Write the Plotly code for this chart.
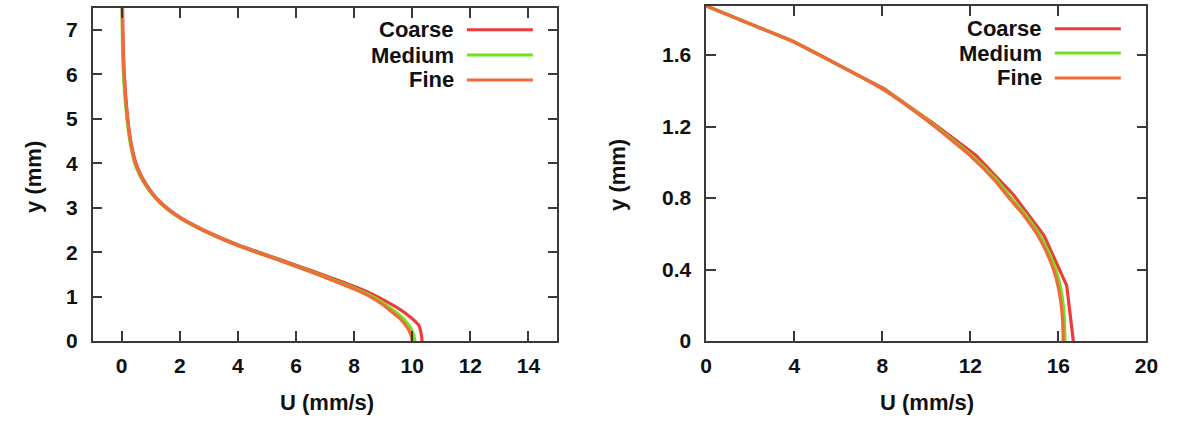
import plotly.graph_objects as go

# ---------------- data (left panel) ----------------
left_fine_y = [7.5, 7.0, 6.5, 6.0, 5.5, 5.0, 4.5, 4.0, 3.75, 3.5, 3.25, 3.0, 2.77, 2.5, 2.16, 2.0,
               1.68, 1.5, 1.17, 1.0, 0.81, 0.6, 0.51, 0.35, 0.22, 0.1, 0.0]
left_fine_u = [0.02, 0.03, 0.05, 0.08, 0.13, 0.2, 0.3, 0.47, 0.63, 0.85, 1.13, 1.52, 2.0, 2.77, 3.95, 4.62,
               6.0, 6.74, 8.0, 8.55, 9.0, 9.4, 9.57, 9.78, 9.9, 9.97, 10.0]
left_med_y = [7.5, 7.0, 6.5, 6.0, 5.5, 5.0, 4.5, 4.0, 3.75, 3.5, 3.25, 3.0, 2.77, 2.5, 2.16, 2.0,
              1.68, 1.5, 1.17, 1.0, 0.81, 0.6, 0.5, 0.3, 0.15, 0.0]
left_med_u = [0.01, 0.02, 0.03, 0.06, 0.11, 0.18, 0.28, 0.45, 0.61, 0.83, 1.12, 1.51, 2.0, 2.78, 3.97, 4.65,
              6.04, 6.8, 8.07, 8.64, 9.1, 9.53, 9.7, 9.94, 10.04, 10.09]
left_coarse_y = [7.5, 7.0, 6.5, 6.0, 5.5, 5.0, 4.5, 4.0, 3.75, 3.5, 3.25, 3.0, 2.77, 2.5, 2.16, 2.0,
                 1.68, 1.5, 1.2, 1.0, 0.8, 0.6, 0.35, 0.0]
left_coarse_u = [0.03, 0.04, 0.06, 0.09, 0.14, 0.21, 0.31, 0.49, 0.65, 0.87, 1.15, 1.55, 2.04, 2.82, 4.02, 4.72,
                 6.12, 6.9, 8.12, 8.8, 9.35, 9.82, 10.23, 10.34]

# ---------------- data (right panel) ----------------
right_fine_y = [1.875, 1.773, 1.673, 1.545, 1.41, 1.236, 1.036, 0.9, 0.8, 0.7, 0.6, 0.5, 0.4, 0.3, 0.2, 0.1, 0.0]
right_fine_u = [0.0, 2.0, 4.0, 6.0, 8.0, 10.0, 12.0, 13.1, 13.76, 14.45, 15.02, 15.45, 15.78, 16.0, 16.13, 16.2, 16.22]
right_med_y = [1.875, 1.773, 1.673, 1.545, 1.41, 1.236, 1.036, 0.9, 0.8, 0.7, 0.6, 0.5, 0.4, 0.3, 0.2, 0.1, 0.0]
right_med_u = [0.0, 2.0, 4.0, 6.0, 8.02, 10.05, 12.08, 13.2, 13.86, 14.55, 15.12, 15.55, 15.88, 16.1, 16.22, 16.28, 16.3]
right_coarse_y = [1.875, 1.673, 1.41, 1.22, 1.04, 0.82, 0.59, 0.31, 0.0]
right_coarse_u = [0.0, 4.0, 8.1, 10.3, 12.25, 13.95, 15.35, 16.38, 16.68]

series_names = ["Coarse", "Medium", "Fine"]
colors = {"Coarse": "#ee3b3b", "Medium": "#6fe31b", "Fine": "#ef6b3a"}

left_x_ticks = [0, 2, 4, 6, 8, 10, 12, 14]
left_y_ticks = [0, 1, 2, 3, 4, 5, 6, 7]
right_x_ticks = [0, 4, 8, 12, 16, 20]
right_y_ticks = [0, 0.4, 0.8, 1.2, 1.6]

W, H = 1184, 430
FONT = "Liberation Sans"

fig = go.Figure()

left = {"Coarse": (left_coarse_u, left_coarse_y),
        "Medium": (left_med_u, left_med_y),
        "Fine": (left_fine_u, left_fine_y)}
right = {"Coarse": (right_coarse_u, right_coarse_y),
         "Medium": (right_med_u, right_med_y),
         "Fine": (right_fine_u, right_fine_y)}

for name in series_names:
    u, y = left[name]
    fig.add_trace(go.Scatter(x=u, y=y, mode="lines", name=name, xaxis="x", yaxis="y",
                             line=dict(color=colors[name], width=3.2, shape="spline", smoothing=0.8),
                             showlegend=False))
for name in series_names:
    u, y = right[name]
    fig.add_trace(go.Scatter(x=u, y=y, mode="lines", name=name, xaxis="x2", yaxis="y2",
                             line=dict(color=colors[name], width=3.2,
                                       shape="linear" if name == "Coarse" else "spline",
                                       smoothing=0.6),
                             showlegend=False))

axis_common = dict(showline=True, linecolor="#3a3a3a", linewidth=1.5, mirror="ticks",
                   ticks="inside", ticklen=10, tickwidth=1.5, tickcolor="#3a3a3a",
                   showgrid=False, zeroline=False,
                   tickfont=dict(family=FONT, size=21, color="#111111", weight="bold"))

def px_x(p):
    return p / W

def px_y(p):
    return 1 - p / H

fig.update_layout(
    width=W, height=H, margin=dict(l=0, r=0, t=0, b=0),
    paper_bgcolor="white", plot_bgcolor="white",
    xaxis=dict(domain=[px_x(88), px_x(560)], range=[-1, 15], tickvals=left_x_ticks,
               anchor="y", ticklabelstandoff=5, **axis_common),
    yaxis=dict(domain=[px_y(350), px_y(8)], range=[0, 7.5], tickvals=left_y_ticks,
               anchor="x", ticklabelstandoff=9, **axis_common),
    xaxis2=dict(domain=[px_x(711), px_x(1158)], range=[0, 20], tickvals=right_x_ticks,
                anchor="y2", ticklabelstandoff=5, **axis_common),
    yaxis2=dict(domain=[px_y(350), px_y(6)], range=[0, 1.875], tickvals=right_y_ticks,
                anchor="x2", ticklabelstandoff=9, **axis_common),
)

title_font = dict(family=FONT, size=22, color="#111111", weight="bold")
annotations = [
    dict(text="U (mm/s)", x=px_x(326), y=px_y(413), xref="paper", yref="paper",
         showarrow=False, font=title_font, xanchor="center", yanchor="middle"),
    dict(text="y (mm)", x=px_x(28), y=px_y(182), xref="paper", yref="paper",
         showarrow=False, font=title_font, textangle=-90, xanchor="center", yanchor="middle"),
    dict(text="U (mm/s)", x=px_x(935), y=px_y(413), xref="paper", yref="paper",
         showarrow=False, font=title_font, xanchor="center", yanchor="middle"),
    dict(text="y (mm)", x=px_x(621), y=px_y(180), xref="paper", yref="paper",
         showarrow=False, font=title_font, textangle=-90, xanchor="center", yanchor="middle"),
]

shapes = []
legend_font = dict(family=FONT, size=22, color="#111111", weight="bold")
left_leg_y = [30.5, 56.5, 82]
right_leg_y = [29.5, 54.5, 80]
for i, name in enumerate(series_names):
    # left panel legend
    annotations.append(dict(text=name, x=px_x(457), y=px_y(left_leg_y[i]), xref="paper", yref="paper",
                            showarrow=False, font=legend_font, xanchor="right", yanchor="middle"))
    shapes.append(dict(type="line", xref="paper", yref="paper",
                       x0=px_x(468), x1=px_x(535), y0=px_y(left_leg_y[i]), y1=px_y(left_leg_y[i]),
                       line=dict(color=colors[name], width=3)))
    # right panel legend
    annotations.append(dict(text=name, x=px_x(1054), y=px_y(right_leg_y[i]), xref="paper", yref="paper",
                            showarrow=False, font=legend_font, xanchor="right", yanchor="middle"))
    shapes.append(dict(type="line", xref="paper", yref="paper",
                       x0=px_x(1065), x1=px_x(1132), y0=px_y(right_leg_y[i]), y1=px_y(right_leg_y[i]),
                       line=dict(color=colors[name], width=3)))

fig.update_layout(annotations=annotations, shapes=shapes)

fig.write_html("out.html")
